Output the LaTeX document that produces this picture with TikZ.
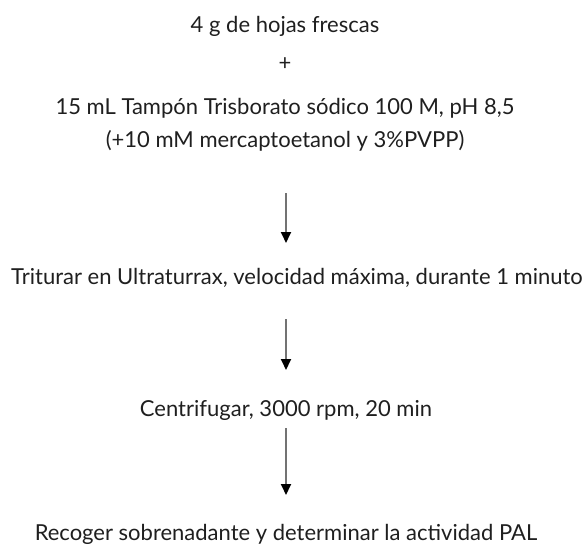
\documentclass[tikz,border=0pt]{standalone}
\usepackage{fontspec}
\setmainfont{Lato}
\usetikzlibrary{arrows.meta}
\begin{document}
\begin{tikzpicture}[x=1pt,y=-1pt,
  txt/.style={anchor=base,inner sep=0pt,font=\fontsize{22}{26}\selectfont,text=black!88},
  flow/.style={draw=black!55,line width=1.8pt,-{Triangle[width=10pt,length=11pt,black]}}]
\useasboundingbox[fill=white] (0,0) rectangle (588,546);
\node[txt] (a) at (285,32) {4 g de hojas frescas};
\node[txt] (p) at (285,70) {+};
\node[txt] (b) at (285,114) {15 mL Tampón Trisborato sódico 100 M, pH 8,5};
\node[txt] (c) at (285,147) {(+10 mM mercaptoetanol y 3\%PVPP)};
\node[txt] (d) at (297,284) {Triturar en Ultraturrax, velocidad máxima, durante 1 minuto};
\node[txt] (e) at (286,416) {Centrifugar, 3000 rpm, 20 min};
\node[txt] (f) at (286,540) {Recoger sobrenadante y determinar la actividad PAL};
\coordinate (c1) at (286,193);
\coordinate (c2) at (286,243);
\coordinate (d1) at (286,319);
\coordinate (d2) at (286,370);
\coordinate (e1) at (286,428);
\coordinate (e2) at (286,495);
\draw[flow] (c1) -- (c2);
\draw[flow] (d1) -- (d2);
\draw[flow] (e1) -- (e2);
\end{tikzpicture}
\end{document}
